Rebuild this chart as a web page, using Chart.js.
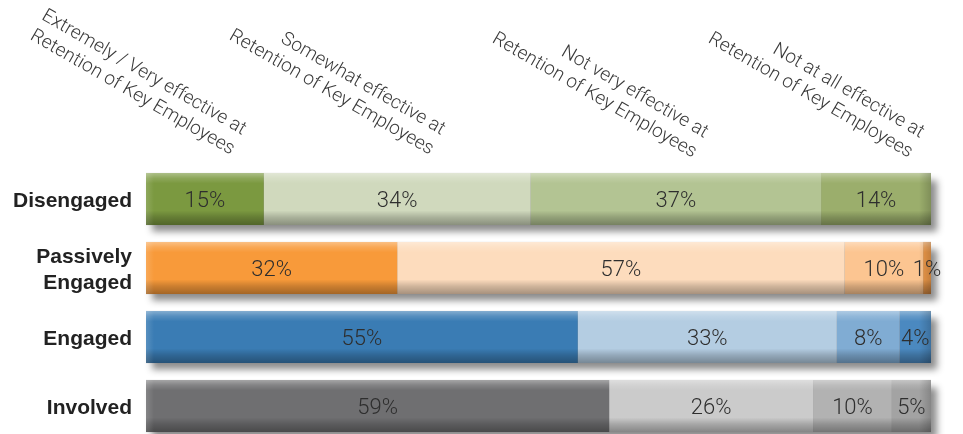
<!DOCTYPE html>
<html>
<head>
<meta charset="utf-8">
<script src="https://cdn.jsdelivr.net/npm/chart.js@4.4.1/dist/chart.umd.min.js"></script>
<style>
  html, body { margin: 0; padding: 0; background: #ffffff; overflow: hidden; }
  #wrap { width: 963px; height: 434px; position: relative; }
</style>
</head>
<body>
<div id="wrap"><canvas id="chart" width="963" height="434"></canvas></div>
<script>
// Respondent groups (rows)
const groups = ['Disengaged', ['Passively', 'Engaged'], 'Engaged', 'Involved'];

// Effectiveness ratings (stacked segments), header text split into two lines
const ratingHeaders = [
  ['Extremely / Very effective at', 'Retention of Key Employees'],
  ['Somewhat effective at', 'Retention of Key Employees'],
  ['Not very effective at', 'Retention of Key Employees'],
  ['Not at all effective at', 'Retention of Key Employees']
];

// Percentages per rating, one value per group
const extremelyVery = [15, 32, 55, 59];
const somewhat      = [34, 57, 33, 26];
const notVery       = [37, 10, 8, 10];
const notAtAll      = [14, 1, 4, 5];

// Colour family per group, one shade per rating
const groupPalettes = [
  ['#7b9940', '#d0d9bd', '#b3c493', '#9bae6c'],
  ['#f89a3a', '#fddcbd', '#fcc591', '#ef9a4a'],
  ['#3a7cb4', '#b4cde2', '#80acd3', '#4b89c0'],
  ['#6f6f71', '#cbcbcb', '#b2b2b2', '#a3a3a3']
];

const seriesValues = [extremelyVery, somewhat, notVery, notAtAll];

const datasets = seriesValues.map((vals, s) => ({
  label: ratingHeaders[s].join(' '),
  data: vals,
  backgroundColor: groupPalettes.map(p => p[s]),
  borderWidth: 0,
  borderSkipped: false,
  categoryPercentage: 1,
  barPercentage: 0.755,
  clip: false
}));

// Drop shadow under each full row
const rowShadow = {
  id: 'rowShadow',
  beforeDatasetsDraw(chart) {
    const { ctx } = chart;
    const first = chart.getDatasetMeta(0).data;
    const last = chart.getDatasetMeta(chart.data.datasets.length - 1).data;
    ctx.save();
    first.forEach((bar, i) => {
      const left = first[i].base;
      const right = last[i].x;
      const top = bar.y - bar.height / 2;
      ctx.shadowColor = 'rgba(0,0,0,0.45)';
      ctx.shadowBlur = 7;
      ctx.shadowOffsetX = 6;
      ctx.shadowOffsetY = 7;
      ctx.fillStyle = '#888';
      ctx.fillRect(left, top, right - left, bar.height);
    });
    ctx.restore();
  }
};

// Bevel shading over each row plus the value labels
const rowShading = {
  id: 'rowShading',
  afterDatasetsDraw(chart) {
    const { ctx } = chart;
    const metas = chart.data.datasets.map((d, s) => chart.getDatasetMeta(s));
    const first = metas[0].data;
    const last = metas[metas.length - 1].data;
    ctx.save();
    first.forEach((bar, i) => {
      const left = bar.base;
      const right = last[i].x;
      const top = bar.y - bar.height / 2;
      const h = bar.height;
      const g = ctx.createLinearGradient(0, top, 0, top + h);
      g.addColorStop(0, 'rgba(255,255,255,0.38)');
      g.addColorStop(0.1, 'rgba(255,255,255,0.14)');
      g.addColorStop(0.2, 'rgba(255,255,255,0)');
      g.addColorStop(0.72, 'rgba(0,0,0,0)');
      g.addColorStop(0.85, 'rgba(0,0,0,0.18)');
      g.addColorStop(1, 'rgba(0,0,0,0.34)');
      ctx.fillStyle = g;
      ctx.fillRect(left, top, right - left, h);
      // edge shading at both ends
      const gr = ctx.createLinearGradient(right - 12, 0, right, 0);
      gr.addColorStop(0, 'rgba(0,0,0,0)');
      gr.addColorStop(1, 'rgba(0,0,0,0.18)');
      ctx.fillStyle = gr;
      ctx.fillRect(right - 12, top, 12, h);
      const gl = ctx.createLinearGradient(left, 0, left + 8, 0);
      gl.addColorStop(0, 'rgba(255,255,255,0.15)');
      gl.addColorStop(1, 'rgba(255,255,255,0)');
      ctx.fillStyle = gl;
      ctx.fillRect(left, top, 8, h);
    });
    // value labels
    ctx.font = '300 22px Roboto, "DejaVu Sans", sans-serif';
    ctx.fillStyle = '#2e2e2e';
    ctx.textAlign = 'center';
    ctx.textBaseline = 'middle';
    metas.forEach((meta, s) => {
      meta.data.forEach((bar, i) => {
        const v = chart.data.datasets[s].data[i];
        const cx = (bar.base + bar.x) / 2;
        ctx.fillText(v + '%', cx, bar.y + 2);
      });
    });
    ctx.restore();
  }
};

// Rotated rating headers above the bars
const headerAnchors = [[242, 135], [441, 135], [704, 138], [920, 138]];
const ratingHeaderPlugin = {
  id: 'ratingHeaders',
  afterDraw(chart) {
    const { ctx } = chart;
    ctx.save();
    ctx.font = '300 19px Roboto, "DejaVu Sans", sans-serif';
    ctx.fillStyle = '#3a3a3a';
    ctx.textAlign = 'right';
    ctx.textBaseline = 'alphabetic';
    ratingHeaders.forEach((lines, k) => {
      const [ax, ay] = headerAnchors[k];
      ctx.save();
      ctx.translate(ax, ay);
      ctx.rotate(30 * Math.PI / 180);
      lines.forEach((line, j) => ctx.fillText(line, 0, j * 23));
      ctx.restore();
    });
    ctx.restore();
  }
};

new Chart(document.getElementById('chart'), {
  type: 'bar',
  data: { labels: groups, datasets },
  options: {
    indexAxis: 'y',
    responsive: false,
    animation: false,
    layout: { padding: { top: 199, bottom: 28, right: 32, left: 0 } },
    plugins: { legend: { display: false }, tooltip: { enabled: false } },
    scales: {
      x: { stacked: true, min: 0, max: 100, display: false },
      y: {
        stacked: true,
        offset: false,
        grid: { display: false, drawTicks: false },
        border: { display: false },
        ticks: {
          padding: 14,
          labelOffset: 2,
          color: '#222222',
          font: { family: '"Liberation Sans", Arial, sans-serif', weight: 'bold', size: 21, lineHeight: 1.25 }
        },
        afterFit(scale) { scale.width = 146; }
      }
    }
  },
  plugins: [rowShadow, rowShading, ratingHeaderPlugin]
});
</script>
</body>
</html>
